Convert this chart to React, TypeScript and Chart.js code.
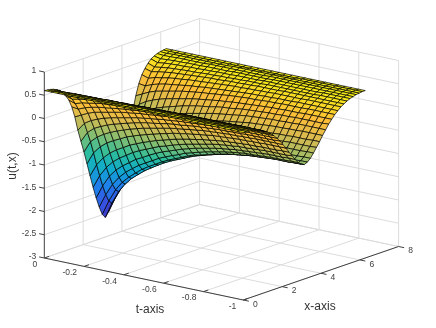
import { useEffect, useRef } from "react";
import { Chart, registerables } from "chart.js";
Chart.register(...registerables);

const tValues = [0,-0.033,-0.067,-0.1,-0.133,-0.167,-0.2,-0.233,-0.267,-0.3,-0.333,-0.367,-0.4,-0.433,-0.467,-0.5,-0.533,-0.567,-0.6,-0.633,-0.667,-0.7,-0.733,-0.767,-0.8,-0.833,-0.867,-0.9,-0.933,-0.967,-1];
const xValues = [0,.157,.314,.471,.628,.785,.942,1.1,1.257,1.414,1.571,1.728,1.885,2.042,2.199,2.356,2.513,2.67,2.827,2.985,3.142,3.299,3.456,3.613,3.77,3.927,4.084,4.241,4.398,4.555,4.712,4.869,5.027,5.184,5.341,5.498,5.655,5.812,5.969,6.126,6.283];
// u(t,x) for x = 0..pi; the surface mirrors about x = pi.
const uHalf = [
[.60,.59,.58,.56,.53,.49,.42,.33,.22,.05,-.19,-.50,-.76,-1.01,-1.29,-1.57,-1.84,-2.09,-2.31,-2.49,-2.58],
[.60,.59,.57,.55,.50,.44,.37,.29,.17,.03,-.12,-.32,-.54,-.76,-1.02,-1.30,-1.56,-1.80,-2.01,-2.17,-2.24],
[.60,.59,.58,.55,.51,.46,.39,.32,.22,.09,-.05,-.23,-.42,-.63,-.86,-1.12,-1.35,-1.56,-1.76,-1.90,-1.96],
[.60,.59,.58,.56,.52,.47,.41,.34,.24,.13,0,-.17,-.35,-.54,-.75,-.99,-1.20,-1.40,-1.58,-1.71,-1.77],
[.60,.59,.58,.56,.52,.48,.42,.36,.27,.16,.03,-.12,-.29,-.47,-.67,-.89,-1.09,-1.28,-1.44,-1.57,-1.62],
[.60,.59,.58,.56,.53,.48,.43,.37,.29,.18,.06,-.08,-.24,-.41,-.60,-.81,-1.00,-1.18,-1.33,-1.45,-1.50],
[.60,.59,.58,.56,.53,.49,.44,.38,.30,.20,.09,-.05,-.20,-.36,-.53,-.73,-.91,-1.08,-1.23,-1.34,-1.39],
[.60,.59,.58,.56,.53,.49,.44,.39,.32,.22,.12,-.02,-.16,-.31,-.48,-.67,-.84,-1.01,-1.15,-1.25,-1.30],
[.60,.59,.58,.57,.54,.50,.45,.40,.33,.24,.14,.01,-.12,-.27,-.43,-.61,-.78,-.93,-1.07,-1.17,-1.21],
[.60,.59,.58,.57,.54,.50,.46,.41,.34,.25,.16,.04,-.09,-.23,-.39,-.56,-.72,-.86,-.99,-1.09,-1.13],
[.60,.59,.58,.57,.54,.51,.46,.42,.35,.27,.18,.06,-.06,-.20,-.35,-.51,-.66,-.80,-.93,-1.02,-1.06],
[.60,.59,.59,.57,.54,.51,.47,.42,.36,.28,.19,.08,-.04,-.17,-.31,-.47,-.62,-.75,-.87,-.96,-1.00],
[.60,.59,.59,.57,.55,.51,.47,.43,.37,.29,.21,.10,-.02,-.14,-.28,-.43,-.57,-.70,-.82,-.90,-.94],
[.60,.59,.59,.57,.55,.52,.48,.44,.38,.30,.22,.12,.01,-.11,-.24,-.39,-.53,-.65,-.76,-.84,-.88],
[.60,.59,.59,.57,.55,.52,.48,.44,.39,.31,.24,.13,.03,-.09,-.22,-.36,-.49,-.61,-.72,-.79,-.83],
[.60,.59,.59,.57,.55,.52,.49,.45,.39,.32,.25,.15,.04,-.07,-.19,-.33,-.46,-.57,-.68,-.76,-.79],
[.60,.59,.59,.57,.55,.52,.49,.45,.40,.33,.26,.16,.06,-.05,-.17,-.31,-.43,-.54,-.64,-.72,-.75],
[.60,.59,.59,.58,.55,.53,.49,.46,.40,.34,.27,.17,.08,-.03,-.15,-.28,-.40,-.51,-.61,-.68,-.71],
[.60,.59,.59,.58,.56,.53,.50,.46,.41,.34,.27,.18,.09,-.01,-.13,-.26,-.37,-.48,-.58,-.65,-.68],
[.60,.59,.59,.58,.56,.53,.50,.46,.41,.35,.28,.19,.10,0,-.11,-.24,-.35,-.46,-.55,-.62,-.65],
[.60,.59,.59,.58,.56,.53,.50,.46,.42,.35,.29,.20,.11,.01,-.10,-.22,-.33,-.44,-.53,-.60,-.63],
[.60,.60,.59,.58,.56,.53,.50,.47,.42,.36,.29,.21,.12,.02,-.09,-.21,-.32,-.42,-.51,-.58,-.61],
[.60,.60,.59,.58,.56,.53,.50,.47,.42,.36,.30,.21,.12,.03,-.08,-.20,-.30,-.41,-.49,-.56,-.59],
[.60,.60,.59,.58,.56,.53,.50,.47,.42,.36,.30,.22,.13,.03,-.07,-.19,-.30,-.40,-.49,-.55,-.58],
[.60,.60,.59,.58,.56,.53,.50,.47,.42,.37,.30,.22,.13,.04,-.07,-.18,-.29,-.39,-.48,-.54,-.57],
[.60,.60,.59,.58,.56,.53,.50,.47,.43,.37,.30,.22,.14,.04,-.06,-.18,-.28,-.38,-.47,-.53,-.56],
[.60,.60,.59,.58,.56,.54,.51,.47,.43,.37,.31,.23,.14,.05,-.06,-.17,-.27,-.37,-.46,-.52,-.55],
[.60,.60,.59,.58,.56,.54,.51,.47,.43,.37,.31,.23,.14,.05,-.05,-.17,-.27,-.37,-.46,-.52,-.55],
[.60,.60,.59,.58,.56,.54,.51,.47,.43,.37,.31,.23,.14,.05,-.05,-.17,-.27,-.37,-.46,-.52,-.55],
[.60,.60,.59,.58,.56,.54,.51,.47,.43,.37,.31,.23,.14,.05,-.05,-.16,-.27,-.36,-.45,-.51,-.54],
[.60,.60,.59,.58,.56,.54,.51,.47,.43,.37,.31,.23,.15,.05,-.05,-.16,-.26,-.36,-.45,-.51,-.54],
];
const zTicks = [-3,-2.5,-2,-1.5,-1,-0.5,0,0.5,1];
const tTicks = [0,-0.2,-0.4,-0.6,-0.8,-1];
const xTicks = [0,2,4,6,8];
const parulaStops: [number, number[]][] = [
  [0,[62,38,168]],[0.1,[55,78,225]],[0.25,[30,130,235]],[0.375,[15,170,205]],[0.5,[45,190,155]],
  [0.65,[150,190,105]],[0.76,[215,187,80]],[0.87,[254,190,55]],[0.95,[248,222,35]],[1,[245,240,20]],
];
const GRID = "#dcdcdc";
const AXIS = "#404040";
const LABEL = "#404040";

// view of the 3D box
const O = [44.3, 258], TV = [199, 42], XV = [155.3, -53.5], ZU = 46.5;
function project(t: number, x: number, z: number) {
  return {
    x: O[0] + -t * TV[0] + (x / 8) * XV[0],
    y: O[1] + -t * TV[1] + (x / 8) * XV[1] - (z + 3) * ZU,
  };
}
function parula(v: number) {
  for (let i = 1; i < parulaStops.length; i++) {
    const [a, ca] = parulaStops[i - 1], [b, cb] = parulaStops[i];
    if (v <= b) {
      const f = Math.max(0, (v - a) / (b - a));
      return `rgb(${ca.map((c, k) => Math.round(c + (cb[k] - c) * f)).join(",")})`;
    }
  }
  return "rgb(245,240,20)";
}

function buildDatasets() {
  const u = uHalf.map((r) => [...r, ...r.slice(0, 20).reverse()]);
  const flat = u.flat();
  const lo = Math.min(...flat), hi = Math.max(...flat);
  const quads: any[] = [];
  // far to near, chart.js paints the last dataset first so it is reversed below
  for (let j = xValues.length - 2; j >= 0; j--) {
    for (let i = 0; i < tValues.length - 1; i++) {
      const corners = [[i, j], [i + 1, j], [i + 1, j + 1], [i, j + 1], [i, j]];
      const pts = corners.map(([a, b]) => project(tValues[a], xValues[b], u[a][b]));
      const mean = (u[i][j] + u[i + 1][j] + u[i + 1][j + 1] + u[i][j + 1]) / 4;
      quads.push({
        data: pts, showLine: true, pointRadius: 0, borderWidth: 0.7, borderColor: "#000",
        backgroundColor: parula((mean - lo) / (hi - lo)), fill: false, tension: 0, clip: false, isQuad: true,
        borderJoinStyle: "round",
      });
    }
  }
  const line = (a: number[], b: number[], color: string, w: number) => ({
    data: [project(a[0], a[1], a[2]), project(b[0], b[1], b[2])],
    showLine: true, pointRadius: 0, borderWidth: w, borderColor: color, fill: false, tension: 0, clip: false,
  });
  const grid: any[] = [];
  for (const z of zTicks) {
    grid.push(line([0, 0, z], [0, 8, z], GRID, 1));
    grid.push(line([0, 8, z], [-1, 8, z], GRID, 1));
  }
  for (const x of xTicks) {
    if (x > 0) grid.push(line([0, x, -3], [0, x, 1], GRID, 1));
    grid.push(line([0, x, -3], [-1, x, -3], GRID, 1));
  }
  for (const t of tTicks) {
    if (t < 0) grid.push(line([t, 8, -3], [t, 8, 1], GRID, 1));
    grid.push(line([t, 0, -3], [t, 8, -3], GRID, 1));
  }
  const axes: any[] = [
    line([0, 0, -3], [0, 0, 1], AXIS, 1),
    line([0, 0, -3], [-1, 0, -3], AXIS, 1),
    line([-1, 0, -3], [-1, 8, -3], AXIS, 1),
  ];
  for (const z of zTicks) axes.push(line([0, 0, z], [0.026, 0, z], AXIS, 1));
  for (const t of tTicks) axes.push(line([t, 0, -3], [t, 0.25, -3], AXIS, 1));
  for (const x of xTicks) axes.push(line([-1, x, -3], [-1.028, x, -3], AXIS, 1));
  // first in the array is painted last
  return [...quads.reverse(), ...axes, ...grid];
}

const quadFill = {
  id: "quadFill",
  beforeDatasetDraw(chart: any, args: any) {
    const ds = chart.data.datasets[args.index];
    if (!ds.isQuad) return;
    const ctx = chart.ctx;
    ctx.save();
    ctx.beginPath();
    args.meta.data.forEach((p: any, i: number) => (i ? ctx.lineTo(p.x, p.y) : ctx.moveTo(p.x, p.y)));
    ctx.closePath();
    ctx.fillStyle = ds.backgroundColor;
    ctx.fill();
    ctx.restore();
  },
};

const axisText = {
  id: "axisText",
  afterDraw(chart: any) {
    const ctx = chart.ctx;
    const sx = chart.scales.x, sy = chart.scales.y;
    const at = (t: number, x: number, z: number) => {
      const p = project(t, x, z);
      return [sx.getPixelForValue(p.x), sy.getPixelForValue(p.y)];
    };
    ctx.save();
    ctx.fillStyle = LABEL;
    ctx.textBaseline = "middle";
    ctx.font = '8.5px "Liberation Sans"';
    ctx.textAlign = "right";
    for (const z of zTicks) {
      const [a, b] = at(0, 0, z);
      ctx.fillText(String(z), a - 8, b - 1);
    }
    for (const t of tTicks) {
      const [a, b] = at(t, 0, -3);
      ctx.fillText(String(t), a - 7, b + 6.5);
    }
    ctx.textAlign = "center";
    for (const x of xTicks) {
      const [a, b] = at(-1, x, -3);
      ctx.fillText(String(x), a + 12, b + 4.5);
    }
    ctx.font = '12px "Liberation Sans"';
    ctx.fillStyle = "#333";
    ctx.fillText("t-axis", 150, 310);
    ctx.fillText("x-axis", 320, 307);
    ctx.translate(13, 166);
    ctx.rotate(-Math.PI / 2);
    ctx.fillText("u(t,x)", 0, 0);
    ctx.restore();
  },
};

export default function App() {
  const ref = useRef<HTMLCanvasElement>(null);
  useEffect(() => {
    document.body.style.margin = "0";
    document.body.style.background = "#fff";
    const chart = new Chart(ref.current as HTMLCanvasElement, {
      type: "scatter",
      data: { datasets: buildDatasets() },
      options: {
        animation: false,
        responsive: false,
        layout: { padding: 0 },
        plugins: { legend: { display: false }, tooltip: { enabled: false } },
        scales: {
          x: { type: "linear", min: 0, max: 436, display: false },
          y: { type: "linear", min: 0, max: 328, reverse: true, display: false },
        },
      },
      plugins: [quadFill, axisText],
    } as any);
    return () => chart.destroy();
  }, []);
  return <canvas ref={ref} width={436} height={328} style={{ display: "block" }} />;
}
